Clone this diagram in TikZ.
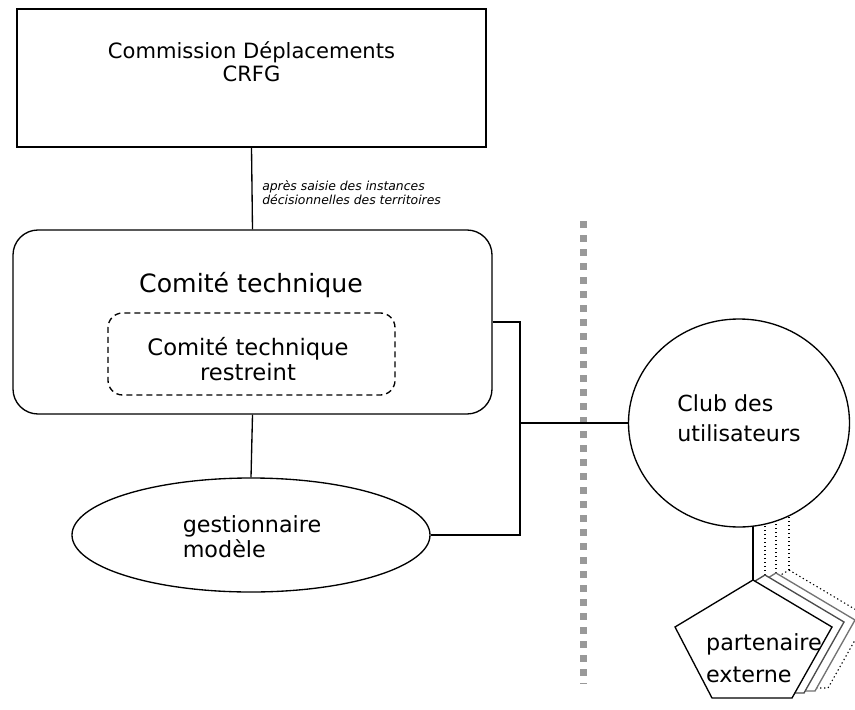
\documentclass[tikz,border=0pt]{standalone}
\usepackage{fontspec}
\setmainfont{DejaVu Sans}
\usetikzlibrary{calc,positioning,shapes.geometric}

\tikzset{
  box/.style={draw, line width=1pt, fill=white, inner sep=0pt},
  txt/.style={inner sep=0pt, align=center},
  lnk/.style={line width=1pt},
  sep/.style={draw=black!40, line width=5.25pt, dash pattern=on 5.25pt off 5.25pt},
  pent/.style={line width=1pt, fill=white, line join=miter},
}

\begin{document}
\begin{tikzpicture}[x=0.75pt,y=-0.75pt]
  \useasboundingbox (0,0) rectangle (855,709);
  % left side
  \node[box, minimum width=351.75pt, minimum height=103.5pt] (cd) at (251.5,78) {};
  \node[txt, font=\fontsize{15.8}{17.3}\selectfont] (cdt) at (251.5,62) {Commission Déplacements\\CRFG};
  \node[box, rounded corners=18.75pt, minimum width=359.25pt, minimum height=138pt] (ct) at (252.5,322) {};
  \node[txt, font=\fontsize{18.9}{20}\selectfont] (ctt) at (251,285) {Comité technique};
  \node[box, dash pattern=on 4.5pt off 3pt, rounded corners=11pt, minimum width=215.25pt, minimum height=61.5pt] (ctr) at (251.5,354) {};
  \node[txt, font=\fontsize{17}{18.75}\selectfont] (ctrt) at (248,359) {Comité technique\\restreint};
  \node[box, ellipse, minimum width=268.5pt, minimum height=85.5pt] (gm) at (251,535) {};
  \node[txt, align=left, font=\fontsize{16.7}{18.75}\selectfont] (gmt) at (252,537) {gestionnaire\\modèle};
  \node[txt, align=left, anchor=west, font=\itshape\fontsize{9.3}{10.5}\selectfont] (lab) at (262,193) {après saisie des instances\\décisionnelles des territoires};

  \draw[lnk] (cd.south) -- (ct.north);
  \draw[lnk] (ct.south) -- (gm.north);

  % separator
  \coordinate (s1) at (583,221);
  \coordinate (s2) at (583,684);
  \draw[sep] (s1) -- (s2);

  % right side
  \coordinate (bus) at (520,423);
  \coordinate (p1) at (753,580);
  \coordinate (p2) at ($(p1)+(12,-5)$);
  \coordinate (p3) at ($(p1)+(23,-7)$);
  \coordinate (p4) at ($(p1)+(36,-10)$);
  \draw[lnk] (ct.east) -| (bus) |- (gm.east);
  \draw[lnk] (p1) -- (p1 |- 0,520);
  \draw[lnk, dotted, line width=0.8pt] (p2) -- (p2 |- 0,515);
  \draw[lnk, dotted, line width=0.8pt] (p3) -- (p3 |- 0,512);
  \draw[lnk, dotted, line width=0.8pt] (p4) -- (p4 |- 0,508);

  \node[box, ellipse, minimum width=165.75pt, minimum height=156pt] (cu) at (739,423) {};
  \node[txt, align=left, font=\fontsize{16.6}{22.5}\selectfont] (cut) at (739,418) {Club des\\utilisateurs};
  \draw[lnk] (bus) -- (cu.west);

  \draw[pent, dotted, line width=0.8pt, shift={(36,-10)}] (753,580) -- (832,627) -- (792,698) -- (712,698) -- (675,627) -- cycle;
  \draw[pent, draw=black!55, shift={(23,-7)}] (753,580) -- (832,627) -- (792,698) -- (712,698) -- (675,627) -- cycle;
  \draw[pent, draw=black!70, shift={(12,-5)}] (753,580) -- (832,627) -- (792,698) -- (712,698) -- (675,627) -- cycle;
  \draw[pent] (p1) -- (832,627) -- (792,698) -- (712,698) -- (675,627) -- cycle;
  \node[txt, align=left, font=\fontsize{16.7}{24}\selectfont] (pet) at (764,658) {partenaire\\externe};
\end{tikzpicture}
\end{document}
